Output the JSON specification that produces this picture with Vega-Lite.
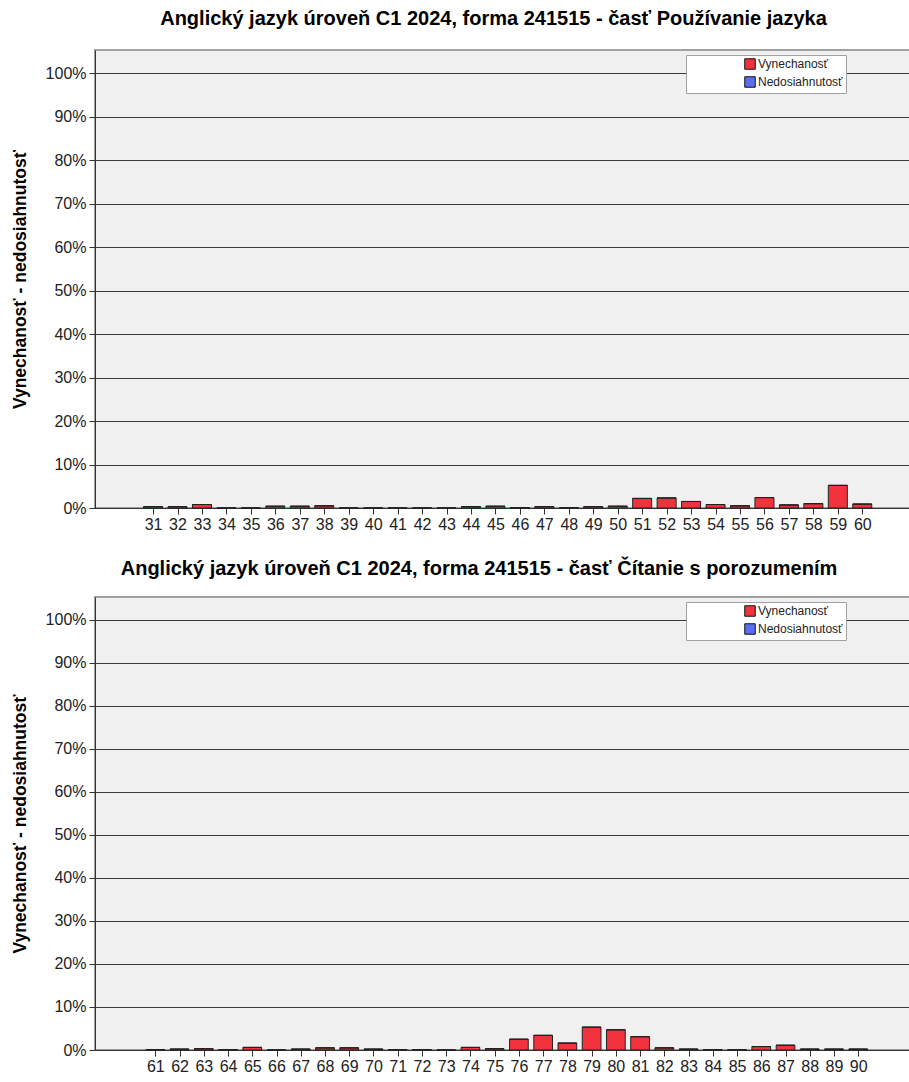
{
  "$schema": "https://vega.github.io/schema/vega-lite/v6.json",
  "padding": {"left": 10, "top": 8, "right": 0, "bottom": 0},
  "spacing": 25,
  "datasets": {
    "pouzivanie": [
      {"otazka": 31, "typ": "Vynechanosť", "podiel": 0.003}, {"otazka": 31, "typ": "Nedosiahnutosť", "podiel": 0},
      {"otazka": 32, "typ": "Vynechanosť", "podiel": 0.003}, {"otazka": 32, "typ": "Nedosiahnutosť", "podiel": 0},
      {"otazka": 33, "typ": "Vynechanosť", "podiel": 0.008}, {"otazka": 33, "typ": "Nedosiahnutosť", "podiel": 0},
      {"otazka": 34, "typ": "Vynechanosť", "podiel": 0}, {"otazka": 34, "typ": "Nedosiahnutosť", "podiel": 0},
      {"otazka": 35, "typ": "Vynechanosť", "podiel": 0}, {"otazka": 35, "typ": "Nedosiahnutosť", "podiel": 0},
      {"otazka": 36, "typ": "Vynechanosť", "podiel": 0.004}, {"otazka": 36, "typ": "Nedosiahnutosť", "podiel": 0},
      {"otazka": 37, "typ": "Vynechanosť", "podiel": 0.004}, {"otazka": 37, "typ": "Nedosiahnutosť", "podiel": 0},
      {"otazka": 38, "typ": "Vynechanosť", "podiel": 0.005}, {"otazka": 38, "typ": "Nedosiahnutosť", "podiel": 0},
      {"otazka": 39, "typ": "Vynechanosť", "podiel": 0}, {"otazka": 39, "typ": "Nedosiahnutosť", "podiel": 0},
      {"otazka": 40, "typ": "Vynechanosť", "podiel": 0}, {"otazka": 40, "typ": "Nedosiahnutosť", "podiel": 0},
      {"otazka": 41, "typ": "Vynechanosť", "podiel": 0}, {"otazka": 41, "typ": "Nedosiahnutosť", "podiel": 0},
      {"otazka": 42, "typ": "Vynechanosť", "podiel": 0}, {"otazka": 42, "typ": "Nedosiahnutosť", "podiel": 0},
      {"otazka": 43, "typ": "Vynechanosť", "podiel": 0}, {"otazka": 43, "typ": "Nedosiahnutosť", "podiel": 0},
      {"otazka": 44, "typ": "Vynechanosť", "podiel": 0.003}, {"otazka": 44, "typ": "Nedosiahnutosť", "podiel": 0},
      {"otazka": 45, "typ": "Vynechanosť", "podiel": 0.004}, {"otazka": 45, "typ": "Nedosiahnutosť", "podiel": 0},
      {"otazka": 46, "typ": "Vynechanosť", "podiel": 0.001}, {"otazka": 46, "typ": "Nedosiahnutosť", "podiel": 0},
      {"otazka": 47, "typ": "Vynechanosť", "podiel": 0.003}, {"otazka": 47, "typ": "Nedosiahnutosť", "podiel": 0},
      {"otazka": 48, "typ": "Vynechanosť", "podiel": 0.001}, {"otazka": 48, "typ": "Nedosiahnutosť", "podiel": 0},
      {"otazka": 49, "typ": "Vynechanosť", "podiel": 0.003}, {"otazka": 49, "typ": "Nedosiahnutosť", "podiel": 0},
      {"otazka": 50, "typ": "Vynechanosť", "podiel": 0.004}, {"otazka": 50, "typ": "Nedosiahnutosť", "podiel": 0},
      {"otazka": 51, "typ": "Vynechanosť", "podiel": 0.022}, {"otazka": 51, "typ": "Nedosiahnutosť", "podiel": 0},
      {"otazka": 52, "typ": "Vynechanosť", "podiel": 0.023}, {"otazka": 52, "typ": "Nedosiahnutosť", "podiel": 0},
      {"otazka": 53, "typ": "Vynechanosť", "podiel": 0.015}, {"otazka": 53, "typ": "Nedosiahnutosť", "podiel": 0},
      {"otazka": 54, "typ": "Vynechanosť", "podiel": 0.008}, {"otazka": 54, "typ": "Nedosiahnutosť", "podiel": 0},
      {"otazka": 55, "typ": "Vynechanosť", "podiel": 0.005}, {"otazka": 55, "typ": "Nedosiahnutosť", "podiel": 0},
      {"otazka": 56, "typ": "Vynechanosť", "podiel": 0.024}, {"otazka": 56, "typ": "Nedosiahnutosť", "podiel": 0},
      {"otazka": 57, "typ": "Vynechanosť", "podiel": 0.007}, {"otazka": 57, "typ": "Nedosiahnutosť", "podiel": 0},
      {"otazka": 58, "typ": "Vynechanosť", "podiel": 0.010}, {"otazka": 58, "typ": "Nedosiahnutosť", "podiel": 0},
      {"otazka": 59, "typ": "Vynechanosť", "podiel": 0.052}, {"otazka": 59, "typ": "Nedosiahnutosť", "podiel": 0},
      {"otazka": 60, "typ": "Vynechanosť", "podiel": 0.009}, {"otazka": 60, "typ": "Nedosiahnutosť", "podiel": 0}
    ],
    "citanie": [
      {"otazka": 61, "typ": "Vynechanosť", "podiel": 0.001}, {"otazka": 61, "typ": "Nedosiahnutosť", "podiel": 0},
      {"otazka": 62, "typ": "Vynechanosť", "podiel": 0.002}, {"otazka": 62, "typ": "Nedosiahnutosť", "podiel": 0},
      {"otazka": 63, "typ": "Vynechanosť", "podiel": 0.003}, {"otazka": 63, "typ": "Nedosiahnutosť", "podiel": 0},
      {"otazka": 64, "typ": "Vynechanosť", "podiel": 0.001}, {"otazka": 64, "typ": "Nedosiahnutosť", "podiel": 0},
      {"otazka": 65, "typ": "Vynechanosť", "podiel": 0.006}, {"otazka": 65, "typ": "Nedosiahnutosť", "podiel": 0},
      {"otazka": 66, "typ": "Vynechanosť", "podiel": 0}, {"otazka": 66, "typ": "Nedosiahnutosť", "podiel": 0},
      {"otazka": 67, "typ": "Vynechanosť", "podiel": 0.002}, {"otazka": 67, "typ": "Nedosiahnutosť", "podiel": 0},
      {"otazka": 68, "typ": "Vynechanosť", "podiel": 0.005}, {"otazka": 68, "typ": "Nedosiahnutosť", "podiel": 0},
      {"otazka": 69, "typ": "Vynechanosť", "podiel": 0.005}, {"otazka": 69, "typ": "Nedosiahnutosť", "podiel": 0},
      {"otazka": 70, "typ": "Vynechanosť", "podiel": 0.002}, {"otazka": 70, "typ": "Nedosiahnutosť", "podiel": 0},
      {"otazka": 71, "typ": "Vynechanosť", "podiel": 0.001}, {"otazka": 71, "typ": "Nedosiahnutosť", "podiel": 0},
      {"otazka": 72, "typ": "Vynechanosť", "podiel": 0.001}, {"otazka": 72, "typ": "Nedosiahnutosť", "podiel": 0},
      {"otazka": 73, "typ": "Vynechanosť", "podiel": 0}, {"otazka": 73, "typ": "Nedosiahnutosť", "podiel": 0},
      {"otazka": 74, "typ": "Vynechanosť", "podiel": 0.006}, {"otazka": 74, "typ": "Nedosiahnutosť", "podiel": 0},
      {"otazka": 75, "typ": "Vynechanosť", "podiel": 0.003}, {"otazka": 75, "typ": "Nedosiahnutosť", "podiel": 0},
      {"otazka": 76, "typ": "Vynechanosť", "podiel": 0.025}, {"otazka": 76, "typ": "Nedosiahnutosť", "podiel": 0},
      {"otazka": 77, "typ": "Vynechanosť", "podiel": 0.034}, {"otazka": 77, "typ": "Nedosiahnutosť", "podiel": 0},
      {"otazka": 78, "typ": "Vynechanosť", "podiel": 0.016}, {"otazka": 78, "typ": "Nedosiahnutosť", "podiel": 0},
      {"otazka": 79, "typ": "Vynechanosť", "podiel": 0.053}, {"otazka": 79, "typ": "Nedosiahnutosť", "podiel": 0},
      {"otazka": 80, "typ": "Vynechanosť", "podiel": 0.047}, {"otazka": 80, "typ": "Nedosiahnutosť", "podiel": 0},
      {"otazka": 81, "typ": "Vynechanosť", "podiel": 0.031}, {"otazka": 81, "typ": "Nedosiahnutosť", "podiel": 0},
      {"otazka": 82, "typ": "Vynechanosť", "podiel": 0.005}, {"otazka": 82, "typ": "Nedosiahnutosť", "podiel": 0},
      {"otazka": 83, "typ": "Vynechanosť", "podiel": 0.002}, {"otazka": 83, "typ": "Nedosiahnutosť", "podiel": 0},
      {"otazka": 84, "typ": "Vynechanosť", "podiel": 0.001}, {"otazka": 84, "typ": "Nedosiahnutosť", "podiel": 0},
      {"otazka": 85, "typ": "Vynechanosť", "podiel": 0.001}, {"otazka": 85, "typ": "Nedosiahnutosť", "podiel": 0},
      {"otazka": 86, "typ": "Vynechanosť", "podiel": 0.008}, {"otazka": 86, "typ": "Nedosiahnutosť", "podiel": 0},
      {"otazka": 87, "typ": "Vynechanosť", "podiel": 0.011}, {"otazka": 87, "typ": "Nedosiahnutosť", "podiel": 0},
      {"otazka": 88, "typ": "Vynechanosť", "podiel": 0.002}, {"otazka": 88, "typ": "Nedosiahnutosť", "podiel": 0},
      {"otazka": 89, "typ": "Vynechanosť", "podiel": 0.002}, {"otazka": 89, "typ": "Nedosiahnutosť", "podiel": 0},
      {"otazka": 90, "typ": "Vynechanosť", "podiel": 0.002}, {"otazka": 90, "typ": "Nedosiahnutosť", "podiel": 0}
    ]
  },
  "vconcat": [
    {
      "data": {"name": "pouzivanie"},
      "title": {"text": "Anglický jazyk úroveň C1 2024, forma 241515 - časť Používanie jazyka", "frame": "group", "dx": -9, "offset": 21},
      "width": 815,
      "height": 458,
      "mark": {"type": "bar", "stroke": "#222222", "strokeWidth": 1, "width": 19},
      "encoding": {
        "x": {"field": "otazka", "type": "quantitative", "title": null,
              "scale": {"domain": [28.831, 61.747], "nice": false, "zero": false},
              "axis": {"values": [31, 32, 33, 34, 35, 36, 37, 38, 39, 40, 41, 42, 43, 44, 45, 46, 47, 48, 49, 50, 51, 52, 53, 54, 55, 56, 57, 58, 59, 60], "format": "d"}},
        "y": {"field": "podiel", "type": "quantitative", "stack": true,
              "scale": {"domain": [0, 1.053], "nice": false},
              "axis": {"values": [0, 0.1, 0.2, 0.3, 0.4, 0.5, 0.6, 0.7, 0.8, 0.9, 1], "format": ".0%", "title": "Vynechanosť - nedosiahnutosť"}},
        "color": {"field": "typ", "type": "nominal",
                  "scale": {"domain": ["Vynechanosť", "Nedosiahnutosť"], "range": ["#f2333d", "#5d6df2"]},
                  "legend": {"orient": "none", "legendX": 591, "legendY": 5}},
        "order": {"field": "typ", "sort": "descending"}
      }
    },
    {
      "data": {"name": "citanie"},
      "title": {"text": "Anglický jazyk úroveň C1 2024, forma 241515 - časť Čítanie s porozumením", "frame": "group", "dx": -23.5, "offset": 18},
      "width": 815,
      "height": 453,
      "mark": {"type": "bar", "stroke": "#222222", "strokeWidth": 1, "width": 18.7},
      "encoding": {
        "x": {"field": "otazka", "type": "quantitative", "title": null,
              "scale": {"domain": [58.718, 91.929], "nice": false, "zero": false},
              "axis": {"values": [61, 62, 63, 64, 65, 66, 67, 68, 69, 70, 71, 72, 73, 74, 75, 76, 77, 78, 79, 80, 81, 82, 83, 84, 85, 86, 87, 88, 89, 90], "format": "d"}},
        "y": {"field": "podiel", "type": "quantitative", "stack": true,
              "scale": {"domain": [0, 1.053], "nice": false},
              "axis": {"values": [0, 0.1, 0.2, 0.3, 0.4, 0.5, 0.6, 0.7, 0.8, 0.9, 1], "format": ".0%", "title": "Vynechanosť - nedosiahnutosť"}},
        "color": {"field": "typ", "type": "nominal",
                  "scale": {"domain": ["Vynechanosť", "Nedosiahnutosť"], "range": ["#f2333d", "#5d6df2"]},
                  "legend": {"orient": "none", "legendX": 591, "legendY": 5}},
        "order": {"field": "typ", "sort": "descending"}
      }
    }
  ],
  "resolve": {"legend": {"color": "independent"}, "scale": {"x": "independent", "y": "independent"}},
  "config": {
    "font": "Liberation Sans",
    "view": {"fill": "#f0f0f0", "stroke": "#a0a0a0", "strokeWidth": 2},
    "title": {"fontSize": 20, "fontWeight": "bold", "color": "#000000", "anchor": "middle"},
    "axis": {"labelColor": "#222222", "tickColor": "#333333", "tickSize": 6, "domainColor": "#333333", "titleFontSize": 17.5, "titleFontWeight": "bold", "titleColor": "#000000"},
    "axisX": {"grid": false, "domain": true, "labelAngle": 0, "labelPadding": 2, "labelFontSize": 16, "labelFlush": false, "labelOverlap": false},
    "axisY": {"grid": true, "gridColor": "#3a3a3a", "gridWidth": 1, "labelPadding": 3, "labelFontSize": 16, "titlePadding": 16},
    "legend": {"title": null, "fillColor": "#ffffff", "strokeColor": "#a0a0a0", "padding": 3, "symbolType": "square", "symbolSize": 110, "symbolStrokeColor": "#111111", "symbolStrokeWidth": 1, "symbolOffset": 55, "labelFontSize": 12, "labelColor": "#222222", "rowPadding": 2, "labelOffset": 2}
  }
}
